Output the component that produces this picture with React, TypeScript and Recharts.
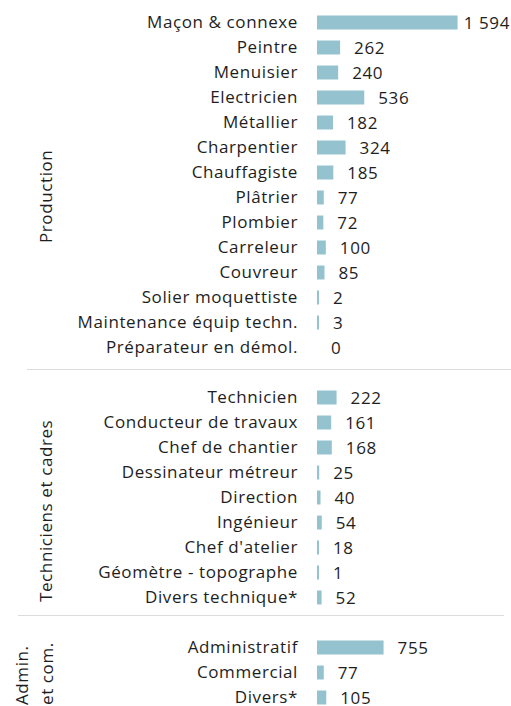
import { BarChart, Bar, XAxis, YAxis, LabelList } from 'recharts';

const productionJobs = [
  'Maçon & connexe',
  'Peintre',
  'Menuisier',
  'Electricien',
  'Métallier',
  'Charpentier',
  'Chauffagiste',
  'Plâtrier',
  'Plombier',
  'Carreleur',
  'Couvreur',
  'Solier moquettiste',
  'Maintenance équip techn.',
  'Préparateur en démol.',
];
const productionCounts = [1594, 262, 240, 536, 182, 324, 185, 77, 72, 100, 85, 2, 3, 0];

const techJobs = [
  'Technicien',
  'Conducteur de travaux',
  'Chef de chantier',
  'Dessinateur métreur',
  'Direction',
  'Ingénieur',
  "Chef d'atelier",
  'Géomètre - topographe',
  'Divers technique*',
];
const techCounts = [222, 161, 168, 25, 40, 54, 18, 1, 52];

const adminJobs = ['Administratif', 'Commercial', 'Divers*'];
const adminCounts = [755, 77, 105];

const BAR_COLOR = '#94c2ce';
const TEXT_COLOR = '#1e1e1e';
const FONT = '"Open Sans", sans-serif';
const SPACING = '0.6px';

type Row = { id: string; name: string; value: number | null };

// one empty row between the groups
const rows: Row[] = [];
const pushGroup = (jobs: string[], counts: number[]) => {
  jobs.forEach((name, i) => rows.push({ id: `r${rows.length}`, name, value: counts[i] }));
};
pushGroup(productionJobs, productionCounts);
rows.push({ id: `r${rows.length}`, name: '', value: null });
pushGroup(techJobs, techCounts);
rows.push({ id: `r${rows.length}`, name: '', value: null });
pushGroup(adminJobs, adminCounts);

const nameById: Record<string, string> = {};
rows.forEach((r) => (nameById[r.id] = r.name));

const fmt = (v: number) => String(v).replace(/\B(?=(\d{3})+(?!\d))/g, '\u00a0');

const ValueLabel = (props: any) => {
  const { x, y, width, height, value } = props;
  if (value === null || value === undefined) return null;
  const txt = fmt(value);
  let tx = x + Math.max(width, 0) + 14;
  let anchor: 'start' | 'end' = 'start';
  if (tx + txt.length * 10 > 510) {
    tx = 510;
    anchor = 'end';
  }
  return (
    <text
      x={tx}
      y={y + height / 2}
      dy="0.36em"
      textAnchor={anchor}
      fontSize={17}
      fontFamily={FONT}
      letterSpacing={SPACING}
      fill={TEXT_COLOR}
    >
      {txt}
    </text>
  );
};

export default function App() {
  return (
    <div
      style={{
        position: 'absolute',
        left: 0,
        top: 0,
        width: 511,
        height: 706,
        overflow: 'hidden',
        background: '#fff',
      }}
    >
      <BarChart
        width={511}
        height={711}
        data={rows}
        layout="vertical"
        margin={{ top: 9.5, right: 0, bottom: 1.5, left: 0 }}
        barSize={14}
      >
        <XAxis type="number" domain={[0, 2200]} hide />
        <YAxis
          type="category"
          dataKey="id"
          width={317}
          axisLine={false}
          tickLine={false}
          tickSize={0}
          tickMargin={19}
          interval={0}
          tickFormatter={(id: string) => nameById[id]}
          tick={{ fontSize: 17, fontFamily: FONT, fill: TEXT_COLOR, letterSpacing: SPACING }}
        />
        <Bar
          dataKey="value"
          fill={BAR_COLOR}
          isAnimationActive={false}
          minPointSize={(v: number) => (v > 0 ? 2 : 0.01)}
        >
          <LabelList dataKey="value" content={<ValueLabel />} />
        </Bar>
      </BarChart>

      {/* group separators and rotated group titles */}
      <svg
        width={511}
        height={706}
        style={{ position: 'absolute', left: 0, top: 0, pointerEvents: 'none' }}
        fontFamily={FONT}
        fontSize={17}
        letterSpacing={SPACING}
        fill={TEXT_COLOR}
      >
        <line x1={27} x2={511} y1={369.5} y2={369.5} stroke="#dcdcdc" />
        <line x1={18} x2={504} y1={615.5} y2={615.5} stroke="#dcdcdc" />
        <text transform="translate(52,243) rotate(-90)">Production</text>
        <text transform="translate(52,602) rotate(-90)">Techniciens et cadres</text>
        <text transform="translate(28,705) rotate(-90)">Admin.</text>
        <text transform="translate(53,705) rotate(-90)">et com.</text>
      </svg>
    </div>
  );
}
